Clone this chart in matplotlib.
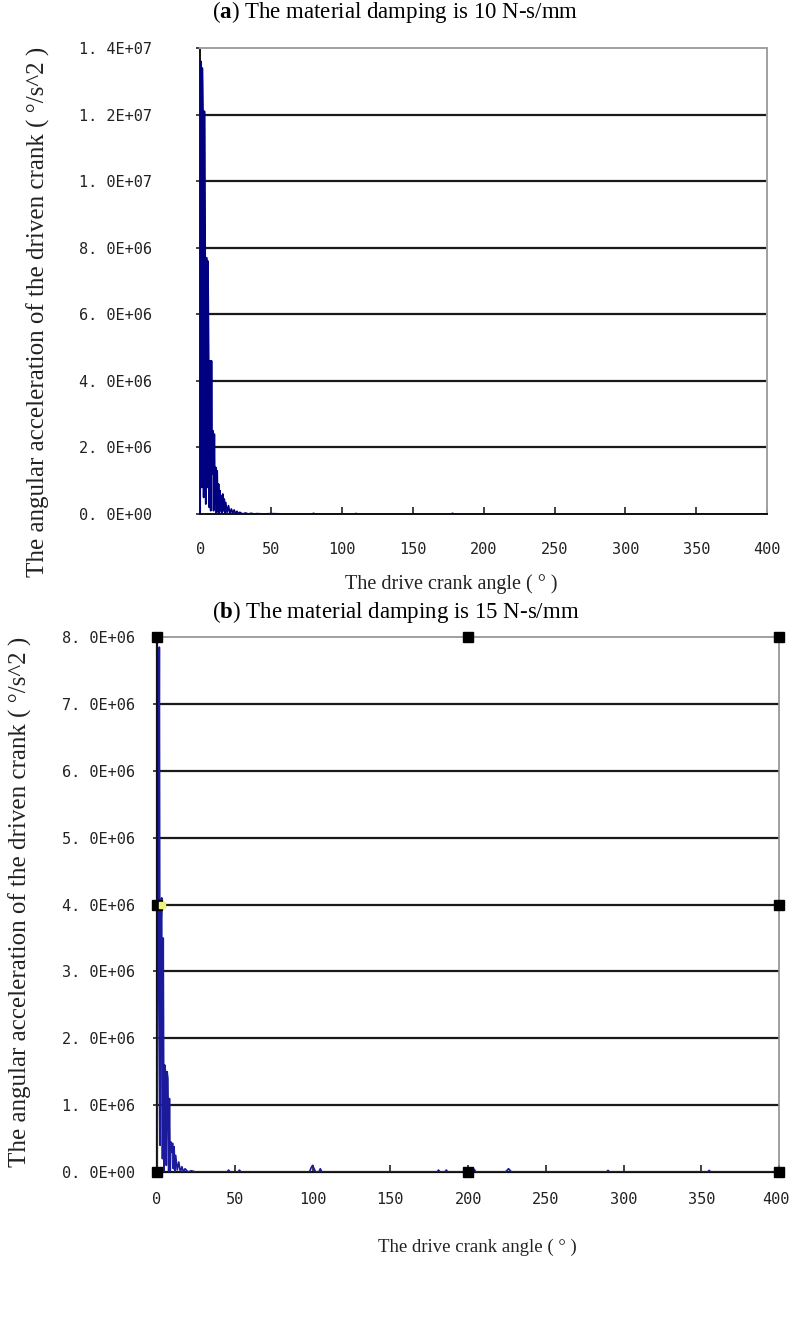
import matplotlib
matplotlib.use('Agg')
import matplotlib.pyplot as plt
import matplotlib.transforms as mtransforms

plt.rcParams['mathtext.fontset'] = 'custom'
plt.rcParams['mathtext.rm'] = 'Liberation Serif'
plt.rcParams['mathtext.bf'] = 'Liberation Serif:bold'

# (a) damping 10 N-s/mm
angle_a = [0.0, 0.5, 1.0, 1.5, 2.0, 2.5, 3.0, 3.5, 4.0, 4.5, 5.0, 5.5, 6.0, 6.5, 7.0, 7.5,
           8.0, 8.5, 9.0, 9.5, 10.0, 10.5, 11.0, 11.5, 12.0, 12.5, 13.0, 13.5, 14.0, 14.5,
           15.0, 15.5, 16.0, 16.5, 17.0, 17.5, 18.0, 19.0, 20.0, 21.0, 22.0, 23.0, 24.0,
           25.0, 26.0, 27.0, 28.0, 30.0, 32.0, 34.0, 36.0, 38.0, 40.0, 45.0, 50.0, 60.0,
           79.0, 80.0, 81.0, 109.0, 110.0, 111.0, 150.0, 177.0, 178.0, 179.0, 250.0, 400.0]
accel_a = [0.0, 1.36e7, 8.0e5, 1.34e7, 1.20e7, 5.0e5, 1.21e7, 8.3e6, 3.0e5, 7.7e6, 8.0e5,
           7.6e6, 4.7e6, 2.0e5, 4.6e6, 1.0e5, 4.6e6, 1.2e6, 2.5e6, 1.0e5, 2.4e6, 3.0e5,
           1.4e6, 0.0, 1.3e6, 1.0e5, 9.0e5, 0.0, 7.0e5, 1.0e5, 5.5e5, 0.0, 6.0e5, 1.0e5,
           4.5e5, 0.0, 3.5e5, 5.0e4, 2.5e5, 0.0, 1.5e5, 3.0e4, 1.2e5, 0.0, 8.0e4, 0.0,
           5.0e4, 0.0, 3.0e4, 0.0, 2.0e4, 0.0, 1.0e4, 0.0, 1.0e4, 0.0,
           0.0, 2.0e4, 0.0, 0.0, 1.5e4, 0.0, 0.0, 0.0, 2.0e4, 0.0, 0.0, 0.0]
yticks_a = [0, 2e6, 4e6, 6e6, 8e6, 1.0e7, 1.2e7, 1.4e7]
ylabels_a = ['0. 0E+00', '2. 0E+06', '4. 0E+06', '6. 0E+06', '8. 0E+06',
             '1. 0E+07', '1. 2E+07', '1. 4E+07']

# (b) damping 15 N-s/mm
angle_b = [0.0, 1.0, 1.5, 2.0, 2.5, 3.0, 3.5, 4.0, 4.5, 5.0, 5.5, 6.0, 6.5, 7.0, 7.5, 8.0,
           8.5, 9.0, 9.5, 10.0, 10.5, 11.0, 11.5, 12.0, 13.0, 14.0, 15.0, 16.0, 17.0,
           18.0, 20.0, 22.0, 25.0, 30.0, 45.0, 46.0, 47.0, 52.0, 53.0, 54.0, 98.0, 99.0,
           100.0, 101.0, 102.0, 104.0, 105.0, 106.0, 170.0, 180.0, 181.0, 182.0, 185.0,
           186.0, 187.0, 199.0, 200.0, 201.0, 203.0, 204.0, 205.0, 224.0, 226.0, 228.0,
           289.0, 290.0, 291.0, 354.0, 355.0, 356.0, 400.0]
accel_b = [0.0, 3.5e6, 7.85e6, 4.0e5, 3.6e6, 4.1e6, 2.0e5, 3.5e6, 0.0, 1.6e6, 1.5e6,
           1.0e5, 1.5e6, 1.4e6, 0.0, 1.1e6, 0.0, 4.5e5, 3.0e5, 4.3e5, 5.0e4, 3.8e5,
           0.0, 2.5e5, 3.0e4, 1.5e5, 0.0, 8.0e4, 0.0, 5.0e4, 0.0, 2.0e4, 0.0, 0.0,
           0.0, 3.0e4, 0.0, 0.0, 3.0e4, 0.0, 0.0, 6.0e4, 1.0e5, 5.0e4, 0.0, 0.0, 5.0e4, 0.0,
           0.0, 0.0, 3.0e4, 0.0, 0.0, 3.0e4, 0.0, 0.0, 5.0e4, 0.0, 0.0, 4.0e4, 0.0,
           0.0, 5.0e4, 0.0, 0.0, 2.5e4, 0.0, 0.0, 2.5e4, 0.0, 0.0]
yticks_b = [0, 1e6, 2e6, 3e6, 4e6, 5e6, 6e6, 7e6, 8e6]
ylabels_b = ['0. 0E+00', '1. 0E+06', '2. 0E+06', '3. 0E+06', '4. 0E+06',
             '5. 0E+06', '6. 0E+06', '7. 0E+06', '8. 0E+06']

xticks = [0, 50, 100, 150, 200, 250, 300, 350, 400]
handle_x = [0, 200, 400, 0, 400, 0, 200, 400]
handle_y = [8e6, 8e6, 8e6, 4e6, 4e6, 0, 0, 0]

fig = plt.figure(figsize=(7.91, 13.19), dpi=100)
mono = 'DejaVu Sans Mono'
serif = 'Liberation Serif'
ylab = 'The angular acceleration of the driven crank ( \u00b0/s^2 )'
xlab = 'The drive crank angle ( \u00b0 )'

def style_axes(ax, yticks, ylabels, ymax, xpad, ypad):
    ax.set_xlim(0, 400)
    ax.set_ylim(0, ymax)
    ax.set_xticks(xticks)
    ax.set_xticklabels([str(t) for t in xticks], fontfamily=mono, fontsize=11, color='#222')
    ax.set_yticks(yticks)
    ax.set_yticklabels(ylabels, fontfamily=mono, fontsize=11, color='#222')
    for t in yticks[1:-1]:
        ax.axhline(t, color='#1a1a1a', lw=1.6, zorder=1)
    ax.tick_params(axis='x', direction='in', length=5, width=1.2, pad=xpad, colors='#222')
    ax.tick_params(axis='y', direction='out', length=3, width=1.2, pad=ypad, colors='#222')

# chart (a)
ax1 = fig.add_axes([0.253, 0.6103, 0.717, 0.3533])
ax1.plot(angle_a, accel_a, color='#000080', lw=1.3, zorder=3)
style_axes(ax1, yticks_a, ylabels_a, 1.4e7, 20, 32)
for s in ['top', 'right']:
    ax1.spines[s].set_color('#a0a0a0')
    ax1.spines[s].set_linewidth(1.4)
for s in ['left', 'bottom']:
    ax1.spines[s].set_color('#111')
    ax1.spines[s].set_linewidth(1.4)

# chart (b)
ax2 = fig.add_axes([0.1985, 0.1114, 0.7865, 0.4056])
ax2.plot(angle_b, accel_b, color='#1a1a9a', lw=1.2, zorder=3)
style_axes(ax2, yticks_b, ylabels_b, 8e6, 14, 13)
for s in ['top', 'right']:
    ax2.spines[s].set_color('#909090')
    ax2.spines[s].set_linewidth(1.2)
for s in ['left', 'bottom']:
    ax2.spines[s].set_color('#111')
    ax2.spines[s].set_linewidth(1.6)
ax2.plot(handle_x, handle_y, linestyle='none', marker='s', markersize=7.5,
         color='black', clip_on=False, zorder=5)
ax2.plot([3], [4e6], linestyle='none', marker='s', markersize=4,
         color='#f0f080', clip_on=False, zorder=6)
last = ax2.get_xticklabels()[-1]
last.set_transform(last.get_transform() + mtransforms.ScaledTranslation(-3 / 100, 0, fig.dpi_scale_trans))

# axis titles
fig.text(0.048, 0.7635, ylab, rotation=90, ha='center', va='center',
         fontfamily=serif, fontsize=18, color='#222')
fig.text(0.571, 0.557, xlab, ha='center', va='center',
         fontfamily=serif, fontsize=14.5, color='#222')
fig.text(0.0253, 0.316, ylab, rotation=90, ha='center', va='center',
         fontfamily=serif, fontsize=18, color='#222')
fig.text(0.604, 0.0546, xlab, ha='center', va='center',
         fontfamily=serif, fontsize=13.5, color='#222')

fig.text(0.5, 0.991, r'($\mathbf{a}$) The material damping is 10 N-s/mm',
         ha='center', va='center', fontfamily=serif, fontsize=16.5)
fig.text(0.5, 0.536, r'($\mathbf{b}$) The material damping is 15 N-s/mm',
         ha='center', va='center', fontfamily=serif, fontsize=16.5)

fig.savefig('out.png', dpi=100)
